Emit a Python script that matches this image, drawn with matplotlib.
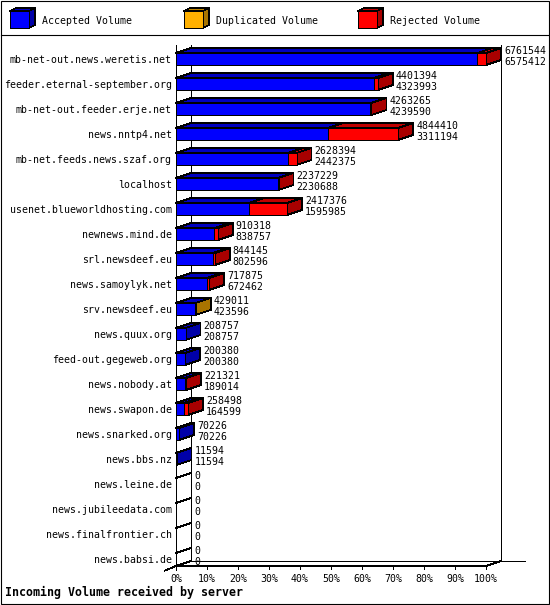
import matplotlib
matplotlib.use('Agg')
import matplotlib.pyplot as plt
from matplotlib.patches import Polygon, Rectangle

# data
servers = ['mb-net-out.news.weretis.net', 'feeder.eternal-september.org',
           'mb-net-out.feeder.erje.net', 'news.nntp4.net',
           'mb-net.feeds.news.szaf.org', 'localhost',
           'usenet.blueworldhosting.com', 'newnews.mind.de',
           'srl.newsdeef.eu', 'news.samoylyk.net', 'srv.newsdeef.eu',
           'news.quux.org', 'feed-out.gegeweb.org', 'news.nobody.at',
           'news.swapon.de', 'news.snarked.org', 'news.bbs.nz',
           'news.leine.de', 'news.jubileedata.com',
           'news.finalfrontier.ch', 'news.babsi.de']
total = [6761544, 4401394, 4263265, 4844410, 2628394, 2237229, 2417376,
         910318, 844145, 717875, 429011, 208757, 200380, 221321, 258498,
         70226, 11594, 0, 0, 0, 0]
accepted = [6575412, 4323993, 4239590, 3311194, 2442375, 2230688, 1595985,
            838757, 802596, 672462, 423596, 208757, 200380, 189014, 164599,
            70226, 11594, 0, 0, 0, 0]
duplicated = [0, 0, 0, 0, 0, 0, 0, 0, 0, 0, 5415, 0, 0, 0, 0, 0, 0, 0, 0, 0, 0]
rejected = [t - a - d for t, a, d in zip(total, accepted, duplicated)]

legend_labels = ['Accepted Volume', 'Duplicated Volume', 'Rejected Volume']
tick_vals = list(range(0, 101, 10))
tick_labels = [str(v) + '%' for v in tick_vals]
xlabel = 'Incoming Volume received by server'

# colours: front, top, side
cols = [('#0000ff', '#0000bf', '#0000a8'),
        ('#ffb000', '#bf8400', '#a87400'),
        ('#ff0000', '#bf0000', '#a80000')]

W, H = 550, 605
x0 = 176.0      # px of 0% on front plane
scale = 3.1     # px per percent
row0 = 59.0     # px of first row centre
pitch = 25.0    # px per row
dx = 15 / scale
dy = 5 / pitch
half = 6.0 / pitch
mono = 'DejaVu Sans Mono'
fs = 7.1
lw = 0.6

fig = plt.figure(figsize=(5.5, 6.05), dpi=100)

# pixel axes for border + legend
pax = fig.add_axes([0, 0, 1, 1])
pax.set_xlim(0, W)
pax.set_ylim(H, 0)
pax.axis('off')
pax.add_patch(Rectangle((0.5, 0.5), W - 1.5, H - 1.5, fill=False, ec='k', lw=0.8))
pax.plot([0.5, W - 1], [35, 35], color='k', lw=0.8)

for i, lab in enumerate(legend_labels):
    lx = 10 + 174 * i
    f, t, s = cols[i]
    pax.add_patch(Polygon([(lx, 11), (lx + 6, 8), (lx + 25, 8), (lx + 19, 11)],
                          fc=t, ec='k', lw=lw, antialiased=False))
    pax.add_patch(Polygon([(lx + 19, 11), (lx + 25, 8), (lx + 25, 25), (lx + 19, 28)],
                          fc=s, ec='k', lw=lw, antialiased=False))
    pax.add_patch(Rectangle((lx, 11), 19, 17, fc=f, ec='k', lw=lw, antialiased=False))
    pax.text(lx + 32, 23.5, lab, family=mono, fontsize=fs, va='baseline')

pax.text(5, 596, xlabel, family=mono, fontsize=8.4, fontweight='bold', va='baseline')

# data axes: x = percent, y = row index
ax = fig.add_axes([0, 0, 1, 1])
ax.set_xlim(-x0 / scale, (W - x0) / scale)
ax.set_ylim((H - row0) / pitch, -row0 / pitch)
ax.axis('off')
ax.patch.set_alpha(0)

n = len(servers)
top_y = (45 - row0) / pitch
floor_f = (566 - row0) / pitch
floor_b = floor_f - dy
kw = dict(color='k', lw=lw, antialiased=False)

# walls / floor
ax.plot([0, 0], [top_y, (570 - row0) / pitch], **kw)
ax.plot([dx, dx], [top_y, floor_b], **kw)
ax.plot([100 + dx, 100 + dx], [top_y, floor_b], **kw)
ax.plot([dx, (525 - x0) / scale], [floor_b, floor_b], **kw)
ax.plot([0, 100, 100 + dx], [floor_f, floor_f, floor_b], **kw)
ax.plot([-11 / scale, 0, dx], [floor_f + 0.18, floor_f, floor_b], **kw)
for v, tl in zip(tick_vals, tick_labels):
    ax.plot([v, v], [floor_f, floor_f + 3 / pitch], **kw)
    ax.text(v, floor_f + 15.5 / pitch, tl, family=mono, fontsize=fs,
            ha='center', va='baseline')

vmax = max(total)
for r in range(n):
    ax.text(-4 / scale, r + 3.8 / pitch, servers[r], family=mono, fontsize=fs,
            ha='right', va='baseline')
    segs = [accepted[r], duplicated[r], rejected[r]]
    left = 0.0
    yt, yb = r - half, r + half
    if total[r] == 0:
        ax.plot([0, dx], [yt, yt - dy], **kw)
    for k, v in enumerate(segs):
        if v == 0:
            continue
        w = v / vmax * 100
        right = left + w
        f, t, s = cols[k]
        z = 3 + k
        ax.add_patch(Polygon([(left, yt), (left + dx, yt - dy), (right + dx, yt - dy), (right, yt)],
                             fc=t, ec='k', lw=lw, zorder=z, antialiased=False))
        ax.add_patch(Polygon([(right, yt), (right + dx, yt - dy), (right + dx, yb - dy), (right, yb)],
                             fc=s, ec='k', lw=lw, zorder=z, antialiased=False))
        ax.barh(r, w, left=left, height=2 * half, color=f, edgecolor='k', lw=lw,
                zorder=z, antialiased=False)
        left = right
    tx = total[r] / vmax * 100 + dx + 3 / scale
    ax.text(tx, r - 5.4 / pitch, str(total[r]), family=mono, fontsize=fs, va='baseline', zorder=10)
    ax.text(tx, r + 5.6 / pitch, str(accepted[r]), family=mono, fontsize=fs, va='baseline', zorder=10)

fig.savefig('out.png', dpi=100)
